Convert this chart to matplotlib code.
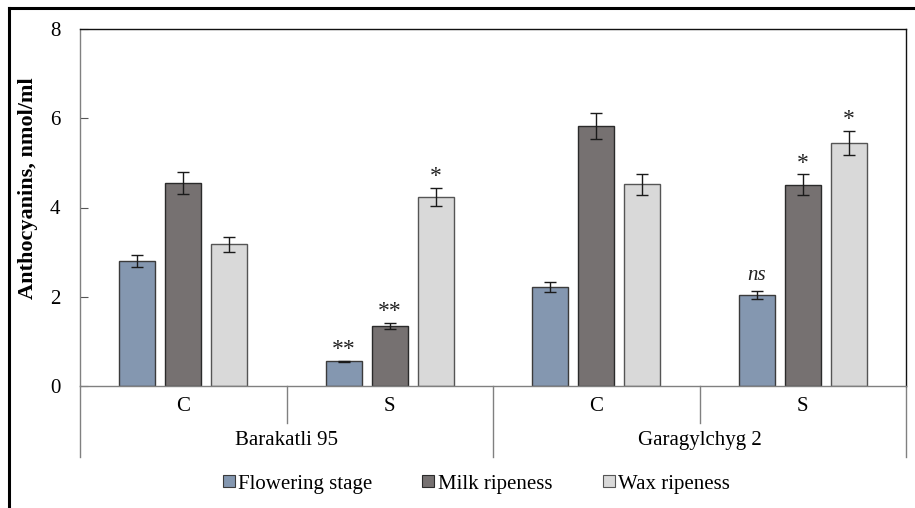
import numpy as np
import matplotlib.pyplot as plt
from matplotlib.lines import Line2D

plt.rcParams["font.family"] = ["Liberation Serif", "DejaVu Serif"]

# data
varieties = ["Barakatli 95", "Garagylchyg 2"]
treatments = ["C", "S", "C", "S"]
stages = ["Flowering stage", "Milk ripeness", "Wax ripeness"]
flowering = [2.80, 0.55, 2.22, 2.04]
milk = [4.55, 1.35, 5.82, 4.51]
wax = [3.18, 4.23, 4.52, 5.45]
flowering_err = [0.13, 0.02, 0.11, 0.10]
milk_err = [0.25, 0.07, 0.29, 0.23]
wax_err = [0.17, 0.20, 0.23, 0.27]
flowering_sig = ["", "**", "", "ns"]
milk_sig = ["", "**", "", "*"]
wax_sig = ["", "*", "", "*"]

colors = ["#8497B0", "#767171", "#D9D9D9"]
edges = ["#3b3b3b", "#2a2a2a", "#555555"]

fig = plt.figure(figsize=(9.15, 5.08), dpi=100)
ax = fig.add_axes([80 / 915, 1 - 386 / 508, 826 / 915, 357 / 508])

x = np.arange(len(treatments)) + 0.5
width = 0.174
step = 0.222
series = [(flowering, flowering_err, flowering_sig),
          (milk, milk_err, milk_sig),
          (wax, wax_err, wax_sig)]
for i, (vals, errs, sigs) in enumerate(series):
    xs = x + (i - 1) * step
    ax.bar(xs, vals, width, color=colors[i], edgecolor=edges[i], linewidth=1.0,
           yerr=errs, error_kw=dict(ecolor="#1a1a1a", elinewidth=1.0, capsize=4, capthick=1.0),
           label=stages[i], zorder=2)
    for xi, v, e, s in zip(xs, vals, errs, sigs):
        if not s:
            continue
        if s == "ns":
            ax.text(xi, v + e + 0.12, s, ha="center", va="bottom", fontsize=15,
                    style="italic", color="#222222")
        else:
            ax.text(xi, v + e + 0.02, s, ha="center", va="bottom", fontsize=17,
                    color="#222222")

ax.set_xlim(0, 4)
ax.set_ylim(0, 8)
ax.set_yticks([0, 2, 4, 6, 8])
ax.set_yticklabels(["0", "2", "4", "6", "8"], fontsize=15)
ax.tick_params(axis="y", direction="in", length=6, width=0.8, color="#555555", pad=14)
ax.set_xticks([])
for side in ["left", "bottom"]:
    ax.spines[side].set_color("#808080")
    ax.spines[side].set_linewidth(1.0)
for side in ["top", "right"]:
    ax.spines[side].set_color("#111111")
    ax.spines[side].set_linewidth(1.0)
ax.set_ylabel("Anthocyanins, nmol/ml", fontsize=16, fontweight="bold")
ax.yaxis.set_label_coords((38 - 80) / 826, (386 - 188) / 357)

# two-level category axis
tr = ax.transAxes
for xp, depth in [(0, -0.199), (0.25, -0.104), (0.5, -0.199), (0.75, -0.104), (1.0, -0.199)]:
    ax.add_line(Line2D([xp, xp], [0, depth], transform=tr, color="#808080",
                       linewidth=1.0, clip_on=False))
for i, t in enumerate(treatments):
    ax.text((i + 0.5) / 4, -0.058, t, transform=tr, ha="center", va="center", fontsize=15)
for i, v in enumerate(varieties):
    ax.text((i + 0.5) / 2, -0.153, v, transform=tr, ha="center", va="center", fontsize=15)

handles = [Line2D([], [], marker="s", linestyle="none", markersize=8,
                  markerfacecolor=colors[i], markeredgecolor=edges[i], markeredgewidth=0.8)
           for i in range(3)]
fig.legend(handles, stages, loc="center", bbox_to_anchor=(475 / 915, 1 - 484 / 508),
           ncol=3, frameon=False, fontsize=15, handletextpad=0.05,
           columnspacing=2.3, handlelength=0.8)

# outer frame around the figure
fig.add_artist(Line2D([9 / 915, 9 / 915], [0, 1 - 8 / 508], transform=fig.transFigure,
                      color="black", linewidth=2.2))
fig.add_artist(Line2D([9 / 915, 1], [1 - 8 / 508, 1 - 8 / 508], transform=fig.transFigure,
                      color="black", linewidth=2.2))

fig.savefig("out.png", dpi=100, facecolor="white")
